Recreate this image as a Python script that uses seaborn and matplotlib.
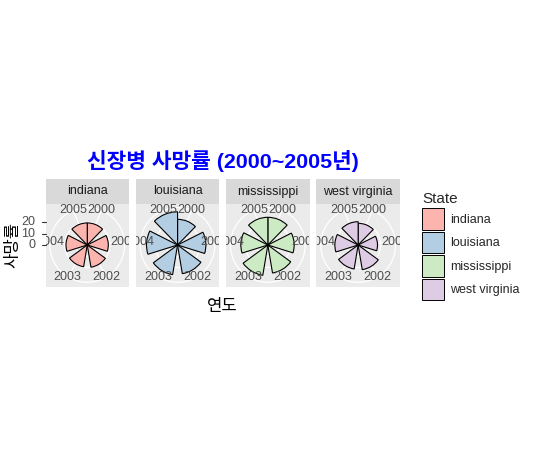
import numpy as np
import pandas as pd
import matplotlib
matplotlib.use('Agg')
import matplotlib.pyplot as plt
from matplotlib.patches import Rectangle, Patch
from matplotlib.lines import Line2D
import seaborn as sns

# death rate by state and year
states = ['indiana', 'louisiana', 'mississippi', 'west virginia']
years = ['2000', '2001', '2002', '2003', '2004', '2005']
indiana = [19.6, 18.7, 20.0, 19.6, 18.9, 19.6]
louisiana = [22.8, 25.2, 25.8, 26.7, 27.6, 29.5]
mississippi = [24.6, 23.4, 25.2, 27.3, 24.0, 24.6]
west_virginia = [19.3, 17.2, 22.2, 21.6, 20.7, 20.7]
r_breaks = [0, 10, 20]
bar_width = 0.7

sns.set_theme(style='white')
plt.rcParams['font.family'] = ['Liberation Sans', 'Noto Sans CJK KR', 'DejaVu Sans']

df = pd.DataFrame({
    'State': np.repeat(states, len(years)),
    'Year': years * len(states),
    'Rate': indiana + louisiana + mississippi + west_virginia,
})

W, H = 535, 468
palette = sns.color_palette('Pastel1', len(states))

# ggplot-like polar scales: theta spans the bars exactly, radius 0..max -> 0..0.4 of panel
n = len(years)
t_lo, t_hi = 1 - bar_width / 2, n + bar_width / 2
top = df['Rate'].max()
r_edge = top * 0.5 / 0.4
r_grid = top * 0.45 / 0.4


def theta(x):
    return (np.asarray(x, dtype=float) - t_lo) / (t_hi - t_lo) * 2 * np.pi


def polar_bars(data, color, **kws):
    ax = plt.gca()
    pos = np.arange(1, len(data) + 1)
    ax.bar(theta(pos), data['Rate'].values,
           width=bar_width / (t_hi - t_lo) * 2 * np.pi,
           bottom=0, color=color, edgecolor='black', linewidth=0.8, zorder=3)


g = sns.FacetGrid(df, col='State', hue='State', col_order=states, hue_order=states,
                  palette=palette, subplot_kws=dict(projection='polar'),
                  sharex=False, sharey=False, despine=False, height=1.2, aspect=1)
g.map_dataframe(polar_bars)
fig = g.figure
fig.set_size_inches(W / 100, H / 100)

# panel layout in pixels
pl, pw, gap = 45.5, 83.5, 6.8
ptop, ph = 203.5, 83.0
stop = 179.5

tt = np.linspace(0, 2 * np.pi, 300)
pos = np.arange(1, n + 1)
for i, (ax, state) in enumerate(zip(g.axes.flat, states)):
    x0 = pl + i * (pw + gap)
    ax.set_position([x0 / W, 1 - (ptop + ph) / H, pw / W, ph / H])
    ax.set_zorder(2)
    ax.set_theta_zero_location('N')
    ax.set_theta_direction(-1)
    ax.set_ylim(0, r_edge)
    ax.set_xticks([])
    ax.set_yticks([])
    ax.grid(False)
    ax.spines['polar'].set_visible(False)
    ax.patch.set_visible(False)
    ax.set_title('')
    ax.set_xlabel('')
    ax.set_ylabel('')

    fig.patches.append(Rectangle((x0 / W, 1 - (ptop + ph) / H), pw / W, ph / H,
                                 transform=fig.transFigure, facecolor='#EBEBEB',
                                 edgecolor='none', zorder=0))
    fig.patches.append(Rectangle((x0 / W, 1 - ptop / H), pw / W, (ptop - stop) / H,
                                 transform=fig.transFigure, facecolor='#D9D9D9',
                                 edgecolor='none', zorder=0))
    fig.text((x0 + pw / 2) / W, 1 - (stop + ptop) / 2 / H, state, ha='center',
             va='center', fontsize=9, color='#1A1A1A')

    for rv in r_breaks[1:] + [r_grid]:
        ax.plot(tt, np.full_like(tt, rv), color='white', lw=0.9, zorder=1)
    for p in pos:
        ax.plot([theta(p)] * 2, [0, r_grid], color='white', lw=0.9, zorder=1)
    for p, yr in zip(pos, years):
        t = ax.text(theta(p), r_grid, yr, ha='center', va='center', fontsize=9,
                    color='#4D4D4D', zorder=4)
        t.set_clip_on(True)
        t.set_clip_box(ax.bbox)

fig.canvas.draw()
ax0 = g.axes.flat[0]
for v in r_breaks:
    _, yp = ax0.transData.transform((0, v))
    fig.text((pl - 10) / W, yp / H, str(v), ha='right', va='center',
             fontsize=9, color='#4D4D4D')
    fig.add_artist(Line2D([(pl - 4) / W, pl / W], [yp / H] * 2,
                          color='#333333', lw=0.8))

fig.text(13 / W, 1 - 245 / H, '사망률', rotation=90, ha='center', va='center',
         fontsize=12, color='black')
fig.text(222 / W, 1 - 307 / H, '연도', ha='center', va='center',
         fontsize=12, color='black')
fig.text(223 / W, 1 - 161 / H, '신장병 사망률 (2000~2005년)', ha='center', va='center',
         fontsize=15.4, fontweight='bold', color='blue')

handles = [Patch(facecolor=c, edgecolor='black', linewidth=0.7, label=s)
           for s, c in zip(states, palette)]
fig.legend(handles=handles, title='State', loc='upper left',
           bbox_to_anchor=(411 / W, 1 - 181 / H), frameon=False, fontsize=9,
           title_fontsize=11, handlelength=1.75, handleheight=2.25,
           labelspacing=0.17, handletextpad=0.45, alignment='left')

fig.savefig('out.png', dpi=100)
